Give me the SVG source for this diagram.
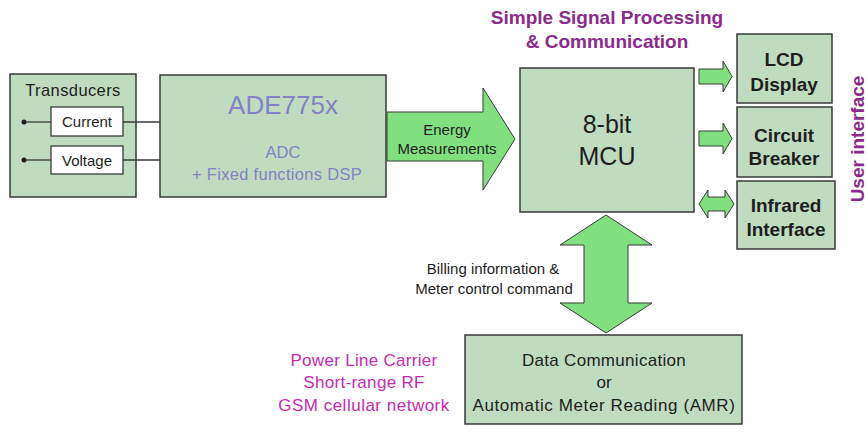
<svg xmlns="http://www.w3.org/2000/svg" width="868" height="432" viewBox="0 0 868 432">
<defs>
<style>
.box{fill:#c0dcc0;stroke:#3a3a3a;stroke-width:1.5}
.wbox{fill:#ffffff;stroke:#3a3a3a;stroke-width:1.3}
.arrow{fill:#80e080;stroke:#3a3a3a;stroke-width:1}
.wire{stroke:#3a3a3a;stroke-width:1.3;fill:none}
text{font-family:"Liberation Sans",Arial,sans-serif;text-anchor:middle}
.dk{fill:#1e1e1e}
.blue{fill:#8282c4}
.purple{fill:#8c2a8c;font-weight:bold}
.mag{fill:#c42ab4}
.bold{font-weight:bold}
</style>
</defs>
<rect width="868" height="432" fill="#ffffff"/>

<g id="title">
<text class="purple" x="607" y="24" font-size="19">Simple Signal Processing</text>
<text class="purple" x="607" y="48" font-size="19">&amp; Communication</text>
</g>

<g id="transducers">
<rect class="box" x="10" y="74" width="126" height="123"/>
<text class="dk" x="73" y="96" font-size="16.5" letter-spacing="0.4">Transducers</text>
</g>
<g id="current">
<rect class="wbox" x="51" y="107" width="72" height="29"/>
<text class="dk" x="87" y="127" font-size="15">Current</text>
</g>
<g id="voltage">
<rect class="wbox" x="51" y="146" width="72" height="28"/>
<text class="dk" x="87" y="166" font-size="15">Voltage</text>
</g>

<g id="ade775x">
<rect class="box" x="160" y="75" width="226" height="122"/>
<text class="blue" x="283" y="114" font-size="26">ADE775x</text>
<text class="blue" x="283" y="158" font-size="16.5">ADC</text>
<text class="blue" x="277" y="180" font-size="16.5" letter-spacing="0.3">+ Fixed functions DSP</text>
</g>

<g id="mcu">
<rect class="box" x="520" y="68" width="174" height="144"/>
<text class="dk" x="607" y="133" font-size="25">8-bit</text>
<text class="dk" x="607" y="165" font-size="25">MCU</text>
</g>

<g id="lcd">
<rect class="box" x="737" y="34" width="95" height="69"/>
<text class="dk bold" x="784" y="66" font-size="19">LCD</text>
<text class="dk bold" x="784" y="91" font-size="19">Display</text>
</g>
<g id="breaker">
<rect class="box" x="737" y="107" width="95" height="70"/>
<text class="dk bold" x="784" y="142" font-size="19">Circuit</text>
<text class="dk bold" x="784" y="165" font-size="19">Breaker</text>
</g>
<g id="infrared">
<rect class="box" x="737" y="181" width="98" height="68"/>
<text class="dk bold" x="786" y="212" font-size="19">Infrared</text>
<text class="dk bold" x="786" y="236" font-size="19">Interface</text>
</g>

<g id="user-interface">
<text class="purple" transform="translate(864,139) rotate(-90)" font-size="19">User interface</text>
</g>

<g id="datacomm">
<rect class="box" x="465" y="335" width="277" height="89"/>
<text class="dk" x="604" y="366" font-size="17" letter-spacing="0.3">Data Communication</text>
<text class="dk" x="604" y="388" font-size="17">or</text>
<text class="dk" x="604" y="411" font-size="17" letter-spacing="0.6">Automatic Meter Reading (AMR)</text>
</g>

<g id="media">
<text class="mag" x="364" y="366" font-size="17" letter-spacing="0.3">Power Line Carrier</text>
<text class="mag" x="364" y="388" font-size="17" letter-spacing="0.3">Short-range RF</text>
<text class="mag" x="364" y="411" font-size="17" letter-spacing="0.5">GSM cellular network</text>
</g>

<g id="connectors">
<line class="wire" x1="24" y1="122" x2="51" y2="122"/>
<line class="wire" x1="24" y1="160" x2="51" y2="160"/>
<circle cx="24" cy="122" r="2.5" fill="#1e1e1e"/>
<circle cx="24" cy="160" r="2.5" fill="#1e1e1e"/>
<line class="wire" x1="123" y1="122" x2="160" y2="122"/>
<line class="wire" x1="123" y1="160" x2="160" y2="160"/>

<polygon class="arrow" points="387,112 483,112 483,88 515,139 483,190 483,161 387,161"/>
<text class="dk" x="447" y="135" font-size="15">Energy</text>
<text class="dk" x="447" y="154" font-size="15">Measurements</text>

<polygon class="arrow" points="699,69 723,69 723,61 732,76.5 723,92 723,84 699,84"/>
<polygon class="arrow" points="699,131 723,131 723,123 732,138.5 723,154 723,146 699,146"/>
<polygon class="arrow" points="699,204 708,190 708,197 725,197 725,190 734,204 725,218 725,211 708,211 708,218"/>

<polygon class="arrow" points="606,215 652,245 628,245 628,303 652,303 606,333 560,303 584,303 584,245 560,245"/>
<text class="dk" x="493" y="274" font-size="15">Billing information &amp;</text>
<text class="dk" x="494" y="294" font-size="15">Meter control command</text>
</g>
</svg>
